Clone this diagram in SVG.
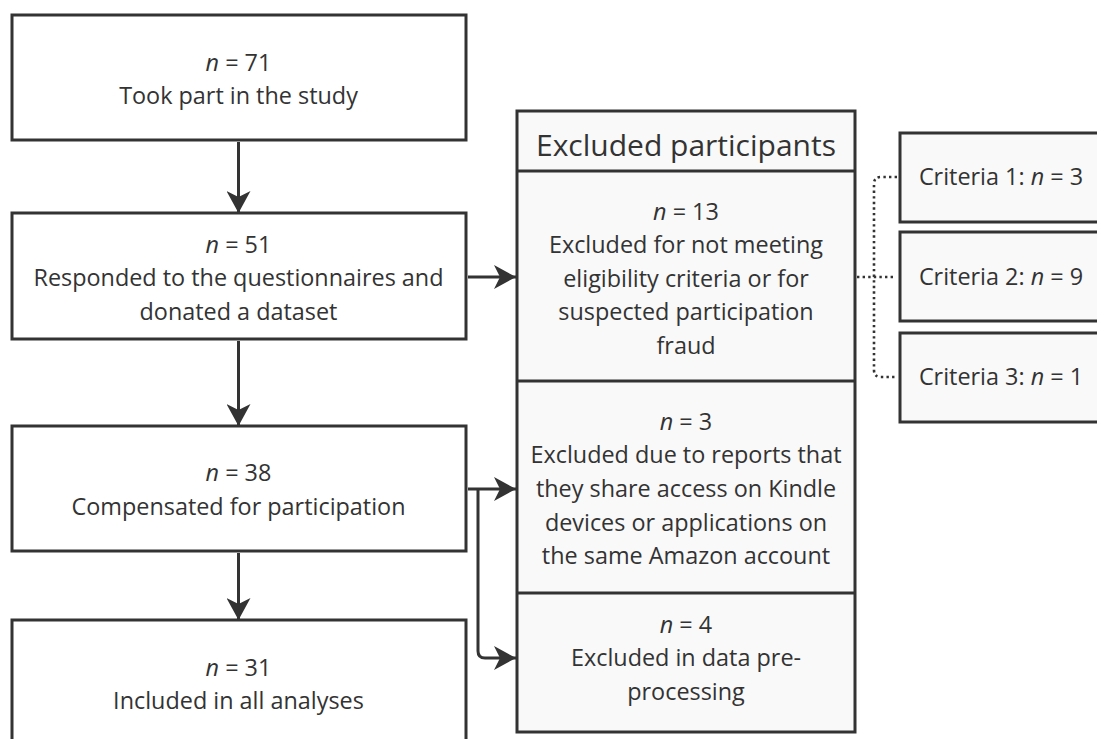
<svg xmlns="http://www.w3.org/2000/svg" width="1097" height="739" viewBox="0 0 1097 739">
<style>
text{font-family:"Open Sans","Noto Sans",sans-serif;font-size:23.4px;fill:#333;text-anchor:middle}
.hdr{font-size:30px}
.box{fill:#fff;stroke:#333;stroke-width:3}
.gbox{fill:#f9f9f9;stroke:#333;stroke-width:3}
.line{fill:none;stroke:#333;stroke-width:3}
.dot{fill:none;stroke:#333;stroke-width:2.6;stroke-dasharray:2.4 3.2}
.it{font-style:italic}
</style>
<defs>
<marker id="ah" viewBox="0 0 22 24" refX="22" refY="12" markerWidth="22" markerHeight="24" markerUnits="userSpaceOnUse" orient="auto">
<path d="M0,0 L22,12 L0,24 L6,12 Z" fill="#333"/>
</marker>
</defs>
<rect width="1097" height="739" fill="#fff"/>
<g id="connectors">
<line class="line" x1="238.5" y1="142" x2="238.5" y2="213" marker-end="url(#ah)"/>
<line class="line" x1="238.5" y1="341" x2="238.5" y2="426" marker-end="url(#ah)"/>
<line class="line" x1="238.5" y1="553" x2="238.5" y2="620" marker-end="url(#ah)"/>
<line class="line" x1="468" y1="277" x2="516" y2="277" marker-end="url(#ah)"/>
<line class="line" x1="468" y1="489" x2="516" y2="489" marker-end="url(#ah)"/>
<path class="line" d="M478,489 L478,651 Q478,658 485,658 L516,658" marker-end="url(#ah)"/>
<path class="dot" d="M857,277 L894,277"/>
<path class="dot" d="M897,177 L881,177 Q874,177 874,184 L874,370 Q874,377 881,377 L897,377"/>
</g>
<g id="n71">
<rect class="box" x="12" y="15" width="454" height="125"/>
<text x="238.5" y="71"><tspan class="it">n</tspan> = 71</text>
<text x="238.5" y="104">Took part in the study</text>
</g>
<g id="n51">
<rect class="box" x="12" y="213" width="454" height="126"/>
<text x="238.5" y="253"><tspan class="it">n</tspan> = 51</text>
<text x="238.5" y="286">Responded to the questionnaires and</text>
<text x="238.5" y="320">donated a dataset</text>
</g>
<g id="n38">
<rect class="box" x="12" y="426" width="454" height="125"/>
<text x="238.5" y="481"><tspan class="it">n</tspan> = 38</text>
<text x="238.5" y="515">Compensated for participation</text>
</g>
<g id="n31">
<rect class="box" x="12" y="620" width="454" height="130"/>
<text x="238.5" y="676"><tspan class="it">n</tspan> = 31</text>
<text x="238.5" y="709">Included in all analyses</text>
</g>
<g id="excluded">
<rect class="gbox" x="517" y="111" width="338" height="621"/>
<line class="line" x1="517" y1="171" x2="855" y2="171"/>
<line class="line" x1="517" y1="381" x2="855" y2="381"/>
<line class="line" x1="517" y1="593" x2="855" y2="593"/>
<text class="hdr" x="686" y="156">Excluded participants</text>
</g>
<g id="ex13">
<text x="686" y="220"><tspan class="it">n</tspan> = 13</text>
<text x="686" y="253">Excluded for not meeting</text>
<text x="686" y="287">eligibility criteria or for</text>
<text x="686" y="320">suspected participation</text>
<text x="686" y="354">fraud</text>
</g>
<g id="ex3">
<text x="686" y="430"><tspan class="it">n</tspan> = 3</text>
<text x="686" y="463">Excluded due to reports that</text>
<text x="686" y="497">they share access on Kindle</text>
<text x="686" y="531">devices or applications on</text>
<text x="686" y="564">the same Amazon account</text>
</g>
<g id="ex4">
<text x="686" y="633"><tspan class="it">n</tspan> = 4</text>
<text x="686" y="666">Excluded in data pre-</text>
<text x="686" y="700">processing</text>
</g>
<g id="c1">
<rect class="gbox" x="900" y="133" width="210" height="89"/>
<text x="1001" y="185">Criteria 1: <tspan class="it">n</tspan> = 3</text>
</g>
<g id="c2">
<rect class="gbox" x="900" y="232" width="210" height="89"/>
<text x="1001" y="285">Criteria 2: <tspan class="it">n</tspan> = 9</text>
</g>
<g id="c3">
<rect class="gbox" x="900" y="333" width="210" height="89"/>
<text x="1001" y="385">Criteria 3: <tspan class="it">n</tspan> = 1</text>
</g>
</svg>
